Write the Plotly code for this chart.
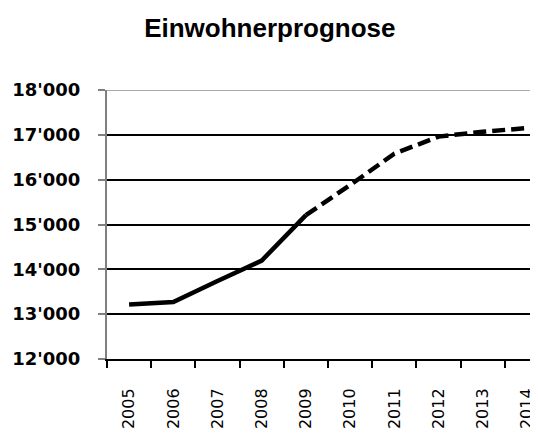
import plotly.graph_objects as go

# data
years = ['2005', '2006', '2007', '2008', '2009', '2010', '2011', '2012', '2013', '2014']
einwohner = [13215, 13270, 13740, 14195, 15210, 15880, 16580, 16960, 17070, 17150]
last_actual = '2009'  # solid line up to here, dashed forecast after

y_ticks = [12000, 13000, 14000, 15000, 16000, 17000, 18000]

split = years.index(last_actual)

fig = go.Figure()

# historical part
fig.add_trace(go.Scatter(
    x=years[:split + 1],
    y=einwohner[:split + 1],
    mode='lines',
    line=dict(color='black', width=4.5),
    showlegend=False
))

# forecast part (dashed)
fig.add_trace(go.Scatter(
    x=years[split:],
    y=einwohner[split:],
    mode='lines',
    line=dict(color='black', width=4.5, dash='13px,6px'),
    showlegend=False
))

# page has an 8px body margin, so the figure is sized to fill the rest of the window
fig.update_layout(
    title=dict(
        text='<b>Einwohnerprognose</b>',
        x=0.494, xanchor='center',
        y=0.953, yanchor='middle',
        font=dict(family='Liberation Sans, Arial', size=26, color='black')
    ),
    width=530,
    height=426,
    separators=".'",
    plot_bgcolor='white',
    paper_bgcolor='white',
    margin=dict(l=99, r=0, t=82, b=75),
)

fig.update_xaxes(
    type='category',
    range=[-0.5, 9.25],
    automargin=False,
    showgrid=False,
    showline=True,
    linecolor='black',
    linewidth=2,
    ticks='outside',
    ticklen=7,
    tickwidth=2,
    tickcolor='black',
    tickson='boundaries',
    tickangle=-90,
    ticklabelstandoff=21,
    tickfont=dict(family='DejaVu Sans', size=16, color='black'),
    zeroline=False
)

fig.update_yaxes(
    range=[12000, 18000],
    tickvals=y_ticks,
    tickformat=',d',
    automargin=False,
    showgrid=True,
    gridcolor='black',
    gridwidth=1.5,
    showline=True,
    linecolor='#7f7f7f',
    linewidth=2,
    ticks='outside',
    ticklen=7,
    tickwidth=2,
    tickcolor='#7f7f7f',
    ticklabelstandoff=14,
    tickfont=dict(family='DejaVu Sans', size=18, color='black', weight='bold'),
    zeroline=False
)

# top border line of plot area is gray in the original
fig.add_shape(type='line', xref='paper', yref='y', x0=0, x1=1,
              y0=y_ticks[-1], y1=y_ticks[-1],
              line=dict(color='#8c8c8c', width=1.5), layer='above')

fig.write_html("out.html")
